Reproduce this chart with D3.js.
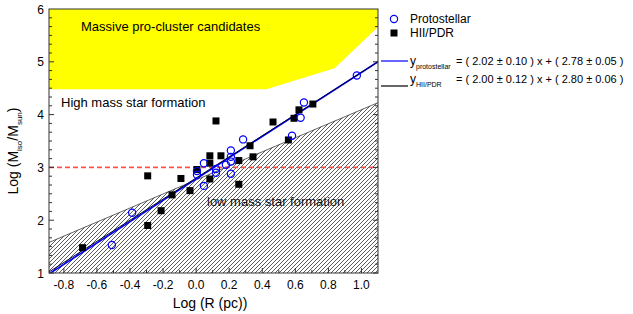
<!DOCTYPE html>
<html>
<head>
<meta charset="utf-8">
<script src="https://cdn.jsdelivr.net/npm/d3@7"></script>
<style>
  body { margin: 0; background: #fff; }
  svg { display: block; font-family: "Liberation Sans", Arial, sans-serif; }
</style>
</head>
<body>
<div id="chart"></div>
<script>
// Data (log R in pc, log M in Msun)
const protoX = [-0.51, -0.387, 0.005, 0.005, 0.047, 0.047, 0.12, 0.12, 0.18, 0.21, 0.21, 0.21, 0.21, 0.284, 0.58, 0.632, 0.652, 0.972];
const protoY = [1.53, 2.14, 2.93, 2.86, 3.08, 2.65, 2.97, 2.90, 3.05, 3.32, 3.20, 3.11, 2.88, 3.53, 3.60, 3.94, 4.23, 4.74];

const hiiX = [-0.687, -0.293, -0.293, -0.212, -0.146, -0.092, -0.037, 0.005, 0.083, 0.083, 0.083, 0.12, 0.15, 0.258, 0.258, 0.326, 0.344, 0.465, 0.558, 0.592, 0.622, 0.706];
const hiiY = [1.48, 2.84, 1.90, 2.18, 2.48, 2.79, 2.56, 2.96, 3.22, 3.08, 2.78, 3.88, 3.22, 3.13, 2.68, 3.41, 3.20, 3.86, 3.52, 3.93, 4.09, 4.20];

// fits: [slope, intercept]
const fitProto = [2.02, 2.78];
const fitHII = [2.00, 2.80];
// low-mass threshold  log M = 2.763 + 1.33 log R
const threshold = [1.33, 2.763];
// yellow "pro-cluster" region boundary (x, y)
const clusterX = [-0.89, 0.425, 0.837, 1.1];
const clusterY = [4.48, 4.48, 4.877, 5.66];

const xTicks = [-0.8, -0.6, -0.4, -0.2, 0.0, 0.2, 0.4, 0.6, 0.8, 1.0];
const yTicks = [1, 2, 3, 4, 5, 6];

const W = 633, H = 314;
const x = d3.scaleLinear().domain([-0.89, 1.1]).range([49, 378]);
const y = d3.scaleLinear().domain([1, 6]).range([273, 9]);
const [x0, x1] = x.domain();

const svg = d3.select('#chart').append('svg').attr('width', W).attr('height', H);

const defs = svg.append('defs');
defs.append('clipPath').attr('id', 'plot')
    .append('rect').attr('x', x(x0)).attr('y', y(6)).attr('width', x(x1) - x(x0)).attr('height', y(1) - y(6));

const pat = defs.append('pattern').attr('id', 'hatch')
    .attr('patternUnits', 'userSpaceOnUse').attr('width', 4).attr('height', 4);
pat.append('path').attr('d', 'M-1,1 l2,-2 M0,4 l4,-4 M3,5 l2,-2')
    .attr('stroke', '#333').attr('stroke-width', 0.8);

const plot = svg.append('g').attr('clip-path', 'url(#plot)');

// yellow region
const clusterPts = clusterX.map((d, i) => [x(d), y(clusterY[i])]);
clusterPts.push([x(x1), y(6)], [x(x0), y(6)]);
plot.append('path').attr('d', d3.line()(clusterPts)).attr('fill', '#ffff00');

// hatched low-mass region
const tLine = v => threshold[0] * v + threshold[1];
plot.append('path')
    .attr('d', d3.line()([[x(x0), y(tLine(x0))], [x(x1), y(tLine(x1))], [x(x1), y(1)], [x(x0), y(1)]]))
    .attr('fill', 'url(#hatch)');
plot.append('line')
    .attr('x1', x(x0)).attr('y1', y(tLine(x0))).attr('x2', x(x1)).attr('y2', y(tLine(x1)))
    .attr('stroke', '#222').attr('stroke-width', 0.7);

// red dashed 1000 Msun line
plot.append('line')
    .attr('x1', x(x0)).attr('x2', x(x1)).attr('y1', y(3)).attr('y2', y(3))
    .attr('stroke', '#ff4f4f').attr('stroke-width', 1.6).attr('stroke-dasharray', '5,3');

// region labels
svg.append('text').attr('x', 81).attr('y', 31).attr('font-size', 13).text('Massive pro-cluster candidates');
svg.append('text').attr('x', 61).attr('y', 107).attr('font-size', 13).text('High mass star formation');
svg.append('text').attr('x', 207).attr('y', 206).attr('font-size', 13).attr('fill', '#111').text('low mass star formation');

// fit lines
const fitLine = f => [[x(x0), y(f[0] * x0 + f[1])], [x(x1), y(f[0] * x1 + f[1])]];
plot.append('path').attr('d', d3.line()(fitLine(fitProto))).attr('stroke', '#0000ff').attr('stroke-width', 1.6).attr('fill', 'none');
plot.append('path').attr('d', d3.line()(fitLine(fitHII))).attr('stroke', '#000033').attr('stroke-width', 1).attr('fill', 'none');

// points
const sq = 7;
plot.selectAll('rect.hii').data(hiiX).join('rect').attr('class', 'hii')
    .attr('x', (d, i) => x(d) - sq / 2).attr('y', (d, i) => y(hiiY[i]) - sq / 2)
    .attr('width', sq).attr('height', sq).attr('fill', '#000');
plot.selectAll('circle.proto').data(protoX).join('circle').attr('class', 'proto')
    .attr('cx', d => x(d)).attr('cy', (d, i) => y(protoY[i])).attr('r', 3.6)
    .attr('fill', 'none').attr('stroke', '#0000ff').attr('stroke-width', 1.2);

// frame and ticks (inward)
const frame = svg.append('g').attr('stroke', '#333').attr('stroke-width', 1);
frame.append('rect').attr('x', x(x0)).attr('y', y(6)).attr('width', x(x1) - x(x0)).attr('height', y(1) - y(6))
    .attr('fill', 'none');

const xMinor = d3.range(-8, 11).map(d => d / 10);
const yMinor = d3.range(6, 36).map(d => d / 6);
xMinor.forEach(v => {
  const len = xTicks.some(t => Math.abs(t - v) < 1e-6) ? 5 : 3;
  frame.append('line').attr('x1', x(v)).attr('x2', x(v)).attr('y1', y(1)).attr('y2', y(1) - len);
});
yMinor.forEach(v => {
  const len = yTicks.some(t => Math.abs(t - v) < 1e-6) ? 5 : 3;
  frame.append('line').attr('x1', x(x0)).attr('x2', x(x0) + len).attr('y1', y(v)).attr('y2', y(v));
  frame.append('line').attr('x1', x(x1)).attr('x2', x(x1) - len).attr('y1', y(v)).attr('y2', y(v));
});

svg.append('g').selectAll('text').data(xTicks).join('text')
    .attr('x', d => x(d)).attr('y', 289).attr('text-anchor', 'middle').attr('font-size', 12)
    .text(d => d3.format('.1f')(d).replace('−', '-'));
svg.append('g').selectAll('text').data(yTicks).join('text')
    .attr('x', 44).attr('y', d => y(d) + 4.5).attr('text-anchor', 'end').attr('font-size', 12)
    .text(d => d);

// axis titles
svg.append('text').attr('x', 210).attr('y', 308).attr('text-anchor', 'middle').attr('font-size', 14).text('Log (R (pc))');
const yt = svg.append('text').attr('transform', 'translate(18,151) rotate(-90)').attr('text-anchor', 'middle').attr('font-size', 14);
yt.append('tspan').text('Log (M');
yt.append('tspan').attr('font-size', 8).attr('dy', 4).text('iso');
yt.append('tspan').attr('dy', -4).text('/M');
yt.append('tspan').attr('font-size', 8).attr('dy', 4).text('sun');
yt.append('tspan').attr('dy', -4).text(')');

// legend
const lg = svg.append('g').attr('font-size', 12);
lg.append('circle').attr('cx', 394).attr('cy', 19).attr('r', 3.6).attr('fill', 'none').attr('stroke', '#0000ff').attr('stroke-width', 1.2);
lg.append('text').attr('x', 410).attr('y', 23).text('Protostellar');
lg.append('rect').attr('x', 394 - sq / 2).attr('y', 33 - sq / 2).attr('width', sq).attr('height', sq).attr('fill', '#000');
lg.append('text').attr('x', 410).attr('y', 37).text('HII/PDR');

const eqs = [
  {color: '#0000ff', sub: 'protostellar', ly: 61, ty: 65, f: fitProto, e: ['0.10', '0.05']},
  {color: '#000', sub: 'HII/PDR', ly: 86, ty: 83, f: fitHII, e: ['0.12', '0.06']}
];
eqs.forEach(q => {
  lg.append('line').attr('x1', 381).attr('x2', 408).attr('y1', q.ly).attr('y2', q.ly).attr('stroke', q.color).attr('stroke-width', 1.2);
  const t = lg.append('text').attr('x', 410).attr('y', q.ty);
  t.append('tspan').text('y');
  t.append('tspan').attr('font-size', 7).attr('dy', 4).text(q.sub);
  const eq = `= ( ${q.f[0].toFixed(2)} \u00b1 ${q.e[0]} ) x + ( ${q.f[1].toFixed(2)} \u00b1 ${q.e[1]} )`;
  lg.append('text').attr('x', 456).attr('y', q.ty).attr('font-size', 11).text(eq);
});
</script>
</body>
</html>
